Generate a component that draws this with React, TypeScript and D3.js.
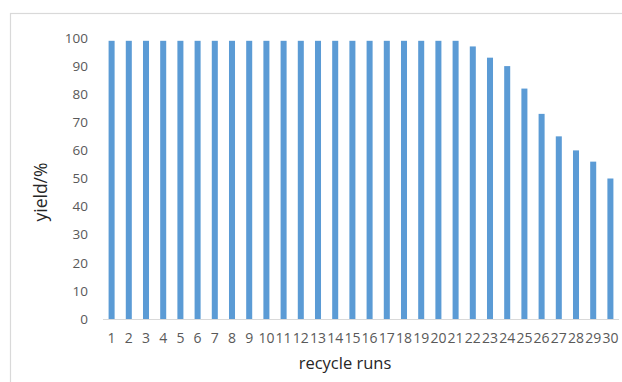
import React from "react";
import * as d3 from "d3";

const runs: string[] = Array.from({ length: 30 }, (_, i) => String(i + 1));
const yields: number[] = [
  99, 99, 99, 99, 99, 99, 99, 99, 99, 99,
  99, 99, 99, 99, 99, 99, 99, 99, 99, 99,
  99, 97, 93, 90, 82, 73, 65, 60, 56, 50,
];
const yTicks: number[] = [0, 10, 20, 30, 40, 50, 60, 70, 80, 90, 100];

const W = 622;
const H = 382;
const FONT = "'Open Sans', 'Noto Sans', sans-serif";

export default function App() {
  const x = d3
    .scaleBand<string>()
    .domain(runs)
    .range([103, 619])
    .paddingInner(0.65)
    .paddingOuter(0.325);
  const y = d3.scaleLinear().domain([0, 100]).range([319, 38]);

  return (
    <svg
      width={W}
      height={H}
      style={{ position: "absolute", left: 0, top: 0, background: "#fff" }}
    >
      <rect x={10.5} y={13.5} width={700} height={500} fill="#fff" stroke="#d9d9d9" strokeWidth={1.2} />
      {runs.map((r, i) => (
        <rect
          key={r}
          x={x(r)!}
          y={y(yields[i])}
          width={x.bandwidth()}
          height={y(0) - y(yields[i])}
          fill="#5b9bd5"
        />
      ))}
      <line x1={103} x2={619} y1={y(0) + 0.5} y2={y(0) + 0.5} stroke="#d9d9d9" strokeWidth={1.2} />
      {yTicks.map((t) => (
        <text
          key={t}
          x={88}
          y={y(t)}
          dy="0.35em"
          textAnchor="end"
          fontFamily={FONT}
          fontSize={13.5}
          fill="#595959"
        >
          {t}
        </text>
      ))}
      {runs.map((r) => (
        <text
          key={r}
          x={x(r)! + x.bandwidth() / 2}
          y={343}
          textAnchor="middle"
          fontFamily={FONT}
          fontSize={14}
          fill="#595959"
        >
          {r}
        </text>
      ))}
      <text
        x={345}
        y={369}
        textAnchor="middle"
        fontFamily={FONT}
        fontSize={16.5}
        fill="#262626"
      >
        recycle runs
      </text>
      <text
        transform={`translate(47,192) rotate(-90)`}
        textAnchor="middle"
        fontFamily={FONT}
        fontSize={17.5}
        fill="#262626"
      >
        yield/%
      </text>
    </svg>
  );
}
